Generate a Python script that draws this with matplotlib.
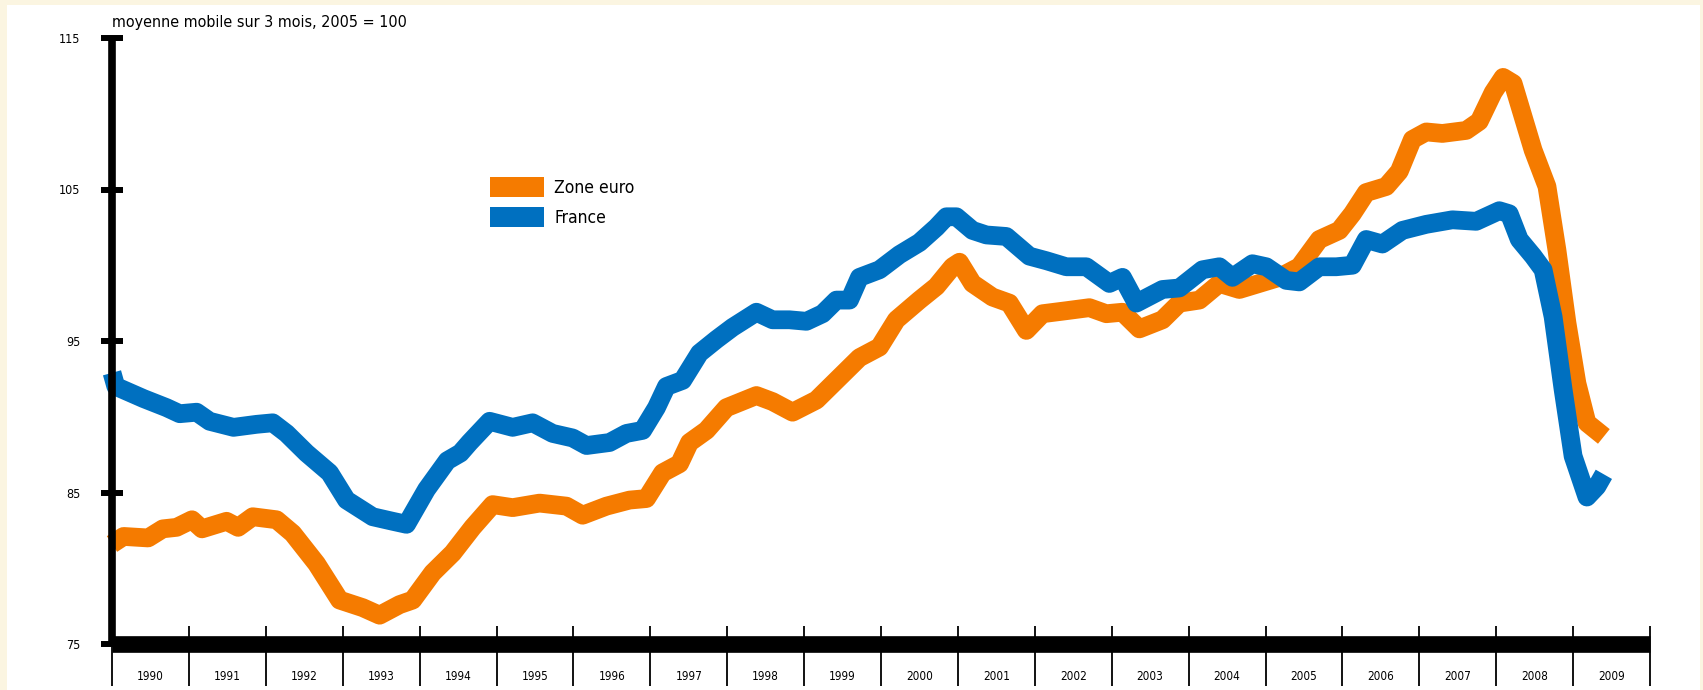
import matplotlib
matplotlib.use("Agg")
import matplotlib.pyplot as plt
import matplotlib.font_manager as fm
from matplotlib.patches import Patch, Rectangle

# dates (annees decimales) et valeurs
dates_zone = [1990.00, 1990.15, 1990.47, 1990.66, 1990.84, 1991.04, 1991.17, 1991.49, 1991.64, 1991.83,
              1992.14, 1992.35, 1992.66, 1992.96, 1993.26, 1993.48, 1993.74, 1993.91, 1994.17, 1994.43,
              1994.69, 1994.95, 1995.21, 1995.56, 1995.91, 1996.12, 1996.43, 1996.73, 1996.95, 1997.16,
              1997.38, 1997.51, 1997.73, 1997.99, 1998.38, 1998.59, 1998.85, 1999.16, 1999.46, 1999.72,
              1999.98, 2000.20, 2000.50, 2000.72, 2000.93, 2001.02, 2001.19, 2001.45, 2001.67, 2001.89,
              2002.10, 2002.41, 2002.71, 2002.93, 2003.14, 2003.36, 2003.66, 2003.88, 2004.14, 2004.40,
              2004.66, 2004.92, 2005.18, 2005.44, 2005.70, 2005.96, 2006.13, 2006.31, 2006.57, 2006.74,
              2006.91, 2007.09, 2007.30, 2007.61, 2007.78, 2007.96, 2008.09, 2008.22, 2008.35, 2008.48,
              2008.66, 2008.79, 2008.92, 2009.05, 2009.18, 2009.40]
zone_euro = [81.6, 82.1, 82.0, 82.6, 82.7, 83.2, 82.6, 83.1, 82.7, 83.4,
             83.2, 82.3, 80.3, 77.9, 77.4, 76.9, 77.6, 77.9, 79.7, 81.0,
             82.7, 84.2, 84.0, 84.3, 84.1, 83.5, 84.1, 84.5, 84.6, 86.3,
             86.9, 88.3, 89.1, 90.6, 91.4, 91.0, 90.3, 91.1, 92.6, 93.9,
             94.6, 96.4, 97.7, 98.6, 99.9, 100.2, 98.8, 97.9, 97.5, 95.7,
             96.8, 97.0, 97.2, 96.8, 96.9, 95.8, 96.4, 97.5, 97.7, 98.8,
             98.4, 98.8, 99.2, 99.9, 101.7, 102.3, 103.4, 104.8, 105.2, 106.2,
             108.3, 108.8, 108.7, 108.9, 109.5, 111.4, 112.4, 112.0, 109.8, 107.6,
             105.2, 101.0, 96.2, 92.2, 89.6, 88.7]

dates_fr = [1990.00, 1990.05, 1990.41, 1990.71, 1990.88, 1991.10, 1991.27, 1991.58, 1991.88, 1992.09,
            1992.27, 1992.53, 1992.83, 1993.05, 1993.39, 1993.65, 1993.83, 1994.09, 1994.36, 1994.53,
            1994.65, 1994.91, 1995.21, 1995.47, 1995.73, 1995.99, 1996.17, 1996.47, 1996.69, 1996.90,
            1997.08, 1997.21, 1997.42, 1997.64, 1997.86, 1998.07, 1998.38, 1998.59, 1998.81, 1999.03,
            1999.24, 1999.42, 1999.59, 1999.72, 1999.98, 2000.24, 2000.50, 2000.72, 2000.85, 2000.98,
            2001.19, 2001.37, 2001.63, 2001.93, 2002.15, 2002.41, 2002.67, 2002.97, 2003.14, 2003.32,
            2003.66, 2003.88, 2004.18, 2004.40, 2004.57, 2004.83, 2005.01, 2005.27, 2005.44, 2005.70,
            2005.92, 2006.13, 2006.31, 2006.52, 2006.78, 2007.09, 2007.43, 2007.74, 2008.04, 2008.17,
            2008.30, 2008.48, 2008.61, 2008.74, 2008.87, 2009.00, 2009.18, 2009.31, 2009.40]
france = [92.9, 92.0, 91.2, 90.6, 90.2, 90.3, 89.7, 89.3, 89.5, 89.6,
          88.9, 87.6, 86.3, 84.5, 83.4, 83.1, 82.9, 85.2, 87.1, 87.6,
          88.3, 89.7, 89.3, 89.6, 88.9, 88.6, 88.1, 88.3, 88.9, 89.1,
          90.6, 92.0, 92.4, 94.2, 95.1, 95.9, 96.9, 96.4, 96.4, 96.3,
          96.8, 97.7, 97.7, 99.2, 99.7, 100.7, 101.5, 102.5, 103.2, 103.2,
          102.3, 102.0, 101.9, 100.6, 100.3, 99.9, 99.9, 98.8, 99.2, 97.5,
          98.4, 98.5, 99.7, 99.9, 99.2, 100.1, 99.9, 99.0, 98.9, 99.9,
          99.9, 100.0, 101.7, 101.4, 102.3, 102.7, 103.0, 102.9, 103.6, 103.4,
          101.7, 100.6, 99.7, 96.6, 91.8, 87.4, 84.7, 85.4, 86.2]

annees = list(range(1990, 2011))
yticks = [75, 85, 95, 105, 115]

orange = "#F57B00"
bleu = "#0070C0"
creme = "#FBF5E1"

# police etroite si disponible (le graphique d'origine est en police condensee)
police = None
for motif in ["LiberationSansNarrow-Regular", "DejaVuSansCondensed.", "Roboto-Regular", "RobotoCondensed"]:
    trouves = [f.fname for f in fm.fontManager.ttflist if motif in f.fname]
    if trouves:
        police = trouves[0]
        break


def fp(taille):
    if police:
        return fm.FontProperties(fname=police, size=taille)
    return fm.FontProperties(family="DejaVu Sans", size=taille)


fig = plt.figure(figsize=(17.03, 6.90), dpi=100, facecolor=creme)
# fond blanc avec bord creme
fig.patches.append(Rectangle((7 / 1703, 0), (1700 - 7) / 1703, 685 / 690,
                             transform=fig.transFigure, facecolor="white",
                             edgecolor="none", zorder=-10))

ax = fig.add_axes([112 / 1703, 46 / 690, 1538 / 1703, 606 / 690])
ax.set_facecolor("none")

ax.plot(dates_zone, zone_euro, color=orange, lw=13.5, solid_capstyle="butt",
        solid_joinstyle="round", clip_on=False)
ax.plot(dates_fr, france, color=bleu, lw=13.5, solid_capstyle="butt",
        solid_joinstyle="round", clip_on=False)

ax.set_xlim(1990, 2010)
ax.set_ylim(75, 115)

for s in ["top", "right"]:
    ax.spines[s].set_visible(False)
ax.spines["left"].set_linewidth(5.5)
ax.spines["left"].set_capstyle("butt")
ax.spines["bottom"].set_linewidth(12)
ax.spines["bottom"].set_capstyle("butt")
ax.spines["bottom"].set_zorder(5)

ax.set_yticks(yticks)
ax.set_yticklabels([str(v) for v in yticks], fontproperties=fp(9))
ax.tick_params(axis="y", direction="inout", length=16, width=4.3, pad=15)

# annees centrees entre les traits
ax.set_xticks([])
ax.set_xticks([a + 0.5 for a in annees[:-1]], minor=True)
ax.set_xticklabels([str(a) for a in annees[:-1]], minor=True, fontproperties=fp(8.5))
ax.tick_params(axis="x", which="minor", length=0, pad=19)
ax.vlines(annees, -0.069, 0.03, transform=ax.get_xaxis_transform(),
          colors="black", lw=1.3, clip_on=False, zorder=6)

fig.text(112 / 1703, 1 - 23 / 690, "moyenne mobile sur 3 mois, 2005 = 100",
         fontproperties=fp(11.5), va="center", ha="left")

handles = [Patch(facecolor=orange, edgecolor="none", label="Zone euro"),
           Patch(facecolor=bleu, edgecolor="none", label="France")]
ax.legend(handles=handles, loc="upper left", bbox_to_anchor=(490 / 1703, 1 - 177 / 690),
          bbox_transform=fig.transFigure, frameon=False, prop=fp(12.5),
          handlelength=3.1, handleheight=1.38, handletextpad=0.6,
          labelspacing=0.6, borderpad=0, borderaxespad=0)

fig.savefig("out.png", dpi=100, facecolor=creme)
